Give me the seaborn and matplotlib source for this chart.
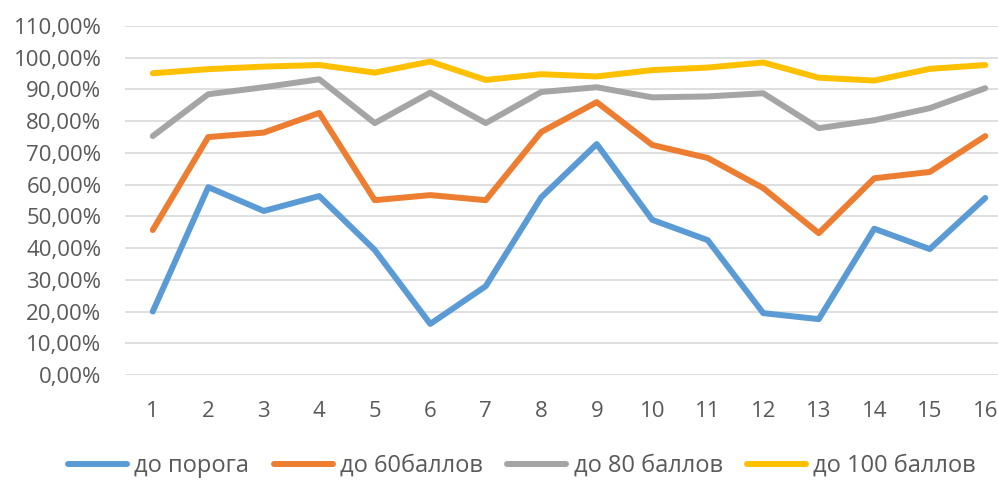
import numpy as np
import pandas as pd
import seaborn as sns
import matplotlib.pyplot as plt
from matplotlib.ticker import FuncFormatter

# categories and series values (in %)
tasks = list(range(1, 17))
do_poroga = [20.0, 59.2, 51.7, 56.4, 39.4, 16.1, 28.0, 56.0, 72.8, 48.9, 42.5, 19.5, 17.6, 46.1, 39.7, 55.8]
do_60 = [45.7, 75.0, 76.4, 82.6, 55.1, 56.7, 55.1, 76.6, 86.0, 72.5, 68.4, 58.9, 44.7, 62.0, 64.0, 75.3]
do_80 = [75.3, 88.5, 90.7, 93.2, 79.4, 89.0, 79.4, 89.2, 90.7, 87.5, 87.8, 88.8, 77.8, 80.3, 84.1, 90.4]
do_100 = [95.1, 96.4, 97.2, 97.7, 95.3, 98.8, 93.0, 94.8, 94.1, 96.1, 96.9, 98.5, 93.7, 92.8, 96.5, 97.7]

series_names = ["до порога", "до 60баллов", "до 80 баллов", "до 100 баллов"]
colors = ["#5B9BD5", "#ED7D31", "#A5A5A5", "#FFC000"]

df = pd.concat([
    pd.DataFrame({"task": tasks, "value": vals, "series": name})
    for name, vals in zip(series_names, [do_poroga, do_60, do_80, do_100])
])

sns.set_theme(style="white")
plt.rcParams['font.family'] = ['Open Sans', 'DejaVu Sans']

fig = plt.figure(figsize=(9.98, 4.80), dpi=100)
ax = fig.add_axes([125 / 998, 105 / 480, 888 / 998, 349 / 480])

sns.lineplot(data=df, x="task", y="value", hue="series", palette=colors,
             linewidth=4.3, ax=ax, legend=True)

ax.set_xlim(0.5, 16.5)
ax.set_ylim(0, 110)
ax.set_yticks(np.arange(0, 111, 10))
ax.set_xticks(tasks)
ax.yaxis.set_major_formatter(FuncFormatter(lambda v, _: f"{v:.2f}".replace(".", ",") + "%"))
ax.grid(axis="y", color="#D9D9D9", linewidth=1.2)
ax.set_axisbelow(True)
for s in ax.spines.values():
    s.set_visible(False)
ax.tick_params(axis="both", length=0, labelsize=16, colors="#595959")
ax.tick_params(axis="x", pad=19)
ax.tick_params(axis="y", pad=17)
ax.set_xlabel("")
ax.set_ylabel("")

handles, labels = ax.get_legend_handles_labels()
ax.legend(handles, labels, loc="center", bbox_to_anchor=(522 / 998, 14 / 480),
          bbox_transform=fig.transFigure, ncol=4, frameon=False, fontsize=17,
          handlelength=2.5, handletextpad=0.3, columnspacing=1.05,
          borderpad=0.1, labelcolor="#595959")

fig.savefig("out.png", dpi=100, facecolor="white")
